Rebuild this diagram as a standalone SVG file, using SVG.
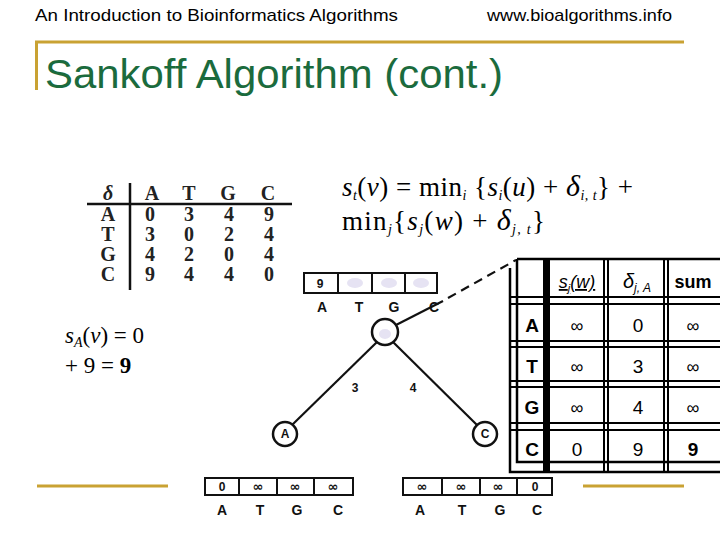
<svg xmlns="http://www.w3.org/2000/svg" width="720" height="540" viewBox="0 0 720 540">
<style>
.hdr{font-family:"Liberation Sans",Arial,sans-serif;font-size:17px;fill:#000}
.title{font-family:"Liberation Sans",Arial,sans-serif;font-size:41px;fill:#1b6b3d}
.gold{stroke:#c9a233;stroke-width:3;fill:none}
.ser{font-family:"Liberation Serif","Times New Roman",serif;fill:#000}
.dt{font-family:"Liberation Serif","Times New Roman",serif;font-size:20px;font-weight:bold;fill:#222;text-anchor:middle}
.lbl{font-family:"Liberation Sans",Arial,sans-serif;font-size:14px;font-weight:bold;fill:#111;text-anchor:middle}
.cell{font-family:"Liberation Sans",Arial,sans-serif;font-size:12px;font-weight:bold;fill:#111;text-anchor:middle}
.inf{font-family:"DejaVu Sans",sans-serif;font-size:13px;font-weight:bold;fill:#111;text-anchor:middle}
.box{fill:#fff;stroke:#111;stroke-width:2}
.node{fill:#fff;stroke:#111;stroke-width:2.5}
.edge{stroke:#111;stroke-width:2.2;fill:none}
.tl{stroke:#000;stroke-width:2.5;fill:none}
.tt{font-family:"Liberation Sans",Arial,sans-serif;font-size:19px;fill:#000;text-anchor:middle}
.ti{font-family:"Liberation Sans",Arial,sans-serif;font-size:18px;fill:#000;text-anchor:middle}
</style>

<!-- header -->
<text class="hdr" x="35" y="21" textLength="363" lengthAdjust="spacingAndGlyphs">An Introduction to Bioinformatics Algorithms</text>
<text class="hdr" x="487" y="21" textLength="185" lengthAdjust="spacingAndGlyphs">www.bioalgorithms.info</text>
<path class="gold" d="M35 42 H684 M36.5 42 V90"/>
<text class="title" x="45" y="88" textLength="458" lengthAdjust="spacingAndGlyphs">Sankoff Algorithm (cont.)</text>
<path class="gold" d="M37 486 H168 M583 486 H684"/>

<!-- delta table -->
<g id="delta-table">
<path d="M87 204 H292 M130 183 V290" stroke="#111" stroke-width="2.5"/>
<text class="dt" x="108" y="200" font-style="italic">δ</text>
<text class="dt" x="152" y="200">A</text><text class="dt" x="189" y="200">T</text><text class="dt" x="228" y="200">G</text><text class="dt" x="268" y="200">C</text>
<text class="dt" x="108" y="221">A</text><text class="dt" x="150" y="221">0</text><text class="dt" x="189" y="221">3</text><text class="dt" x="229" y="221">4</text><text class="dt" x="269" y="221">9</text>
<text class="dt" x="108" y="241">T</text><text class="dt" x="150" y="241">3</text><text class="dt" x="189" y="241">0</text><text class="dt" x="229" y="241">2</text><text class="dt" x="269" y="241">4</text>
<text class="dt" x="108" y="261">G</text><text class="dt" x="150" y="261">4</text><text class="dt" x="189" y="261">2</text><text class="dt" x="229" y="261">0</text><text class="dt" x="269" y="261">4</text>
<text class="dt" x="108" y="281">C</text><text class="dt" x="150" y="281">9</text><text class="dt" x="189" y="281">4</text><text class="dt" x="229" y="281">4</text><text class="dt" x="269" y="281">0</text>
</g>

<!-- formula -->
<g id="formula">
<text class="ser" x="342" y="196" font-size="27" textLength="291" lengthAdjust="spacing"><tspan font-style="italic">s</tspan><tspan font-style="italic" font-size="14" dy="4">t</tspan><tspan dy="-4">(</tspan><tspan font-style="italic">v</tspan><tspan>) = min</tspan><tspan font-style="italic" font-size="14" dy="4">i</tspan><tspan dy="-4"> {</tspan><tspan font-style="italic">s</tspan><tspan font-style="italic" font-size="14" dy="4">i</tspan><tspan dy="-4">(</tspan><tspan font-style="italic">u</tspan><tspan>) + </tspan><tspan font-style="italic" font-size="30">δ</tspan><tspan font-style="italic" font-size="14" dy="4">i, t</tspan><tspan dy="-4">} +</tspan></text>
<text class="ser" x="342" y="230" font-size="27" textLength="203" lengthAdjust="spacing"><tspan>min</tspan><tspan font-style="italic" font-size="14" dy="4">j</tspan><tspan dy="-4">{</tspan><tspan font-style="italic">s</tspan><tspan font-style="italic" font-size="14" dy="4">j</tspan><tspan dy="-4">(</tspan><tspan font-style="italic">w</tspan><tspan>) + </tspan><tspan font-style="italic" font-size="30">δ</tspan><tspan font-style="italic" font-size="14" dy="4">j, t</tspan><tspan dy="-4">}</tspan></text>
</g>

<!-- left calc -->
<g id="calc">
<text class="ser" x="65" y="343" font-size="23"><tspan font-style="italic">s</tspan><tspan font-style="italic" font-size="14" dy="4">A</tspan><tspan dy="-4">(</tspan><tspan font-style="italic">v</tspan><tspan>) = 0</tspan></text>
<text class="ser" x="65" y="373" font-size="23">+ 9 = <tspan font-weight="bold">9</tspan></text>
</g>

<!-- connectors -->
<g id="connectors">
<line class="edge" x1="377" y1="342" x2="292" y2="425"/>
<line class="edge" x1="393" y1="342" x2="477" y2="425"/>
<line class="edge" x1="396" y1="325" x2="443" y2="301"/>
<line class="edge" x1="448" y1="298" x2="516" y2="260" stroke-dasharray="9 6"/>
<text class="cell" x="355" y="392">3</text>
<text class="cell" x="413" y="392">4</text>
</g>

<!-- top array -->
<g id="root-array">
<rect class="box" x="304" y="273" width="133" height="20"/>
<path d="M338 273 V293 M372 273 V293 M405 273 V293" stroke="#111" stroke-width="2"/>
<text class="cell" x="320" y="288">9</text>
<ellipse cx="355" cy="283" rx="8" ry="5" fill="#e6e3f3"/>
<ellipse cx="389" cy="283" rx="8" ry="5" fill="#e6e3f3"/>
<ellipse cx="421" cy="283" rx="8" ry="5" fill="#e6e3f3"/>
<text class="lbl" x="322" y="312">A</text><text class="lbl" x="359" y="312">T</text><text class="lbl" x="394" y="312">G</text><text class="lbl" x="434" y="312">C</text>
</g>

<g id="root">
<circle class="node" cx="385" cy="332" r="13"/>
<ellipse cx="385" cy="334" rx="6" ry="5" fill="#e6e3f3"/>
</g>
<g id="leaf-A">
<circle class="node" cx="285" cy="434" r="12"/>
<text class="cell" x="285" y="438">A</text>
</g>
<g id="leaf-C">
<circle class="node" cx="485" cy="434" r="12"/>
<text class="cell" x="485" y="438">C</text>
</g>

<!-- bottom arrays -->
<g id="leaf-A-array">
<rect class="box" x="205" y="478" width="148" height="17"/>
<path d="M239 478 V495 M277 478 V495 M314 478 V495" stroke="#111" stroke-width="2"/>
<text class="cell" x="222" y="491">0</text><text class="inf" x="258" y="491">∞</text><text class="inf" x="295" y="491">∞</text><text class="inf" x="333" y="491">∞</text>
<text class="lbl" x="222" y="515">A</text><text class="lbl" x="260" y="515">T</text><text class="lbl" x="297" y="515">G</text><text class="lbl" x="338" y="515">C</text>
</g>
<g id="leaf-C-array">
<rect class="box" x="403" y="478" width="149" height="17"/>
<path d="M442 478 V495 M480 478 V495 M517 478 V495" stroke="#111" stroke-width="2"/>
<text class="inf" x="422" y="491">∞</text><text class="inf" x="461" y="491">∞</text><text class="inf" x="498" y="491">∞</text><text class="cell" x="535" y="491">0</text>
<text class="lbl" x="420" y="515">A</text><text class="lbl" x="462" y="515">T</text><text class="lbl" x="500" y="515">G</text><text class="lbl" x="537" y="515">C</text>
</g>

<!-- right table -->
<g id="sum-table">
<path class="tl" d="M517 259 H720 M517 259 V462 H720 M510 268 V472 H720"/>
<rect x="543" y="259" width="7" height="213" fill="#000"/>
<path d="M604 259 V472 M608 259 V472 M664 259 V472 M668 259 V472" stroke="#000" stroke-width="2"/>
<path d="M510 297 H720 M510 304 H720 M510 341 H720 M510 347 H720 M510 381 H720 M510 387 H720 M510 423 H720 M510 430 H720" stroke="#000" stroke-width="2"/>
<text class="ti" x="577" y="288" font-style="italic" text-decoration="underline">s<tspan font-size="11" dy="4">j</tspan><tspan dy="-4">(w)</tspan></text>
<text class="ti" x="637" y="288" font-style="italic"><tspan font-size="20">δ</tspan><tspan font-size="12" dy="4">j, A</tspan></text>
<text class="ti" x="693" y="288" font-weight="bold">sum</text>
<text class="tt" x="532" y="332" font-weight="bold">A</text><text class="ti" x="577" y="332">∞</text><text class="tt" x="638" y="332">0</text><text class="ti" x="693" y="332">∞</text>
<text class="tt" x="532" y="373" font-weight="bold">T</text><text class="ti" x="577" y="373">∞</text><text class="tt" x="638" y="373">3</text><text class="ti" x="693" y="373">∞</text>
<text class="tt" x="532" y="414" font-weight="bold">G</text><text class="ti" x="577" y="414">∞</text><text class="tt" x="638" y="414">4</text><text class="ti" x="693" y="414">∞</text>
<text class="tt" x="532" y="456" font-weight="bold">C</text><text class="tt" x="577" y="456">0</text><text class="tt" x="638" y="456">9</text><text class="tt" x="693" y="456" font-weight="bold">9</text>
</g>
</svg>
